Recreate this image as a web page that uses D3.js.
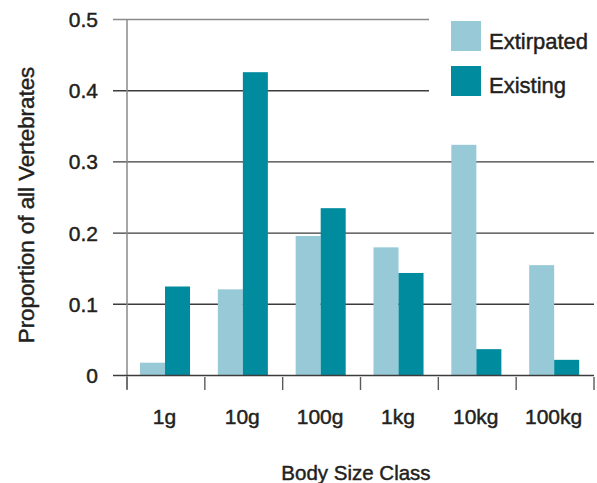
<!DOCTYPE html>
<html>
<head>
<meta charset="utf-8">
<script src="https://cdn.jsdelivr.net/npm/d3@7/dist/d3.min.js"></script>
<style>
  html, body { margin: 0; padding: 0; background: #fff; }
  svg { display: block; }
  text { font-family: "Liberation Sans", Arial, Helvetica, sans-serif; fill: #231f20; stroke: #231f20; stroke-width: 0.45px; }
</style>
</head>
<body>
<svg id="chart" width="597" height="483"></svg>
<script>
const categories = ["1g", "10g", "100g", "1kg", "10kg", "100kg"];
const seriesNames = ["Extirpated", "Existing"];
const extirpated = [0.018, 0.121, 0.196, 0.180, 0.324, 0.155];
const existing   = [0.125, 0.426, 0.235, 0.144, 0.037, 0.022];
const yTicks = [0, 0.1, 0.2, 0.3, 0.4, 0.5];
const yTickLabels = ["0", "0.1", "0.2", "0.3", "0.4", "0.5"];
const colors = ["#97cad6", "#008b9e"];

const svg = d3.select("#chart");
const pLeft = 127, pRight = 594, pTop = 19.5, pBottom = 375.5;

const x = d3.scaleBand().domain(categories).range([pLeft, pRight]).paddingInner(0).paddingOuter(0);
const xSub = d3.scaleBand().domain(seriesNames).range([13, x.bandwidth() - 14.8]).padding(0);
const y = d3.scaleLinear().domain([0, 0.5]).range([pBottom, pTop]);

// gridlines
const grid = svg.append("g");
yTicks.forEach(v => {
  if (v === 0) return;
  grid.append("line")
    .attr("x1", 113).attr("x2", v >= 0.4 ? 429 : pRight)
    .attr("y1", y(v)).attr("y2", y(v))
    .attr("stroke", v === 0.5 ? "#8a8a8a" : "#3c3c3c")
    .attr("stroke-width", 1.4);
});

// y axis vertical line
svg.append("line")
  .attr("x1", pLeft).attr("x2", pLeft)
  .attr("y1", pTop).attr("y2", 389)
  .attr("stroke", "#8a8a8a").attr("stroke-width", 1.5);

// bars
const data = categories.map((c, i) => ({ cat: c, vals: [extirpated[i], existing[i]] }));
const groups = svg.append("g").selectAll("g").data(data).join("g")
  .attr("transform", d => `translate(${x(d.cat)},0)`);
groups.selectAll("rect")
  .data(d => d.vals.map((v, j) => ({ name: seriesNames[j], v, j })))
  .join("rect")
  .attr("x", d => xSub(d.name))
  .attr("width", xSub.bandwidth())
  .attr("y", d => y(d.v))
  .attr("height", d => pBottom - y(d.v))
  .attr("fill", d => colors[d.j]);

// baseline
svg.append("line")
  .attr("x1", 113).attr("x2", pRight)
  .attr("y1", pBottom).attr("y2", pBottom)
  .attr("stroke", "#3c3c3c").attr("stroke-width", 1.4);

// x ticks (band boundaries)
const boundaries = categories.map(c => x(c)).concat([pRight]);
svg.append("g").selectAll("line").data(boundaries).join("line")
  .attr("x1", d => d).attr("x2", d => d)
  .attr("y1", 377).attr("y2", 390)
  .attr("stroke", "#5a5a5a").attr("stroke-width", 1.4);

// y tick labels
svg.append("g").selectAll("text").data(yTicks).join("text")
  .attr("x", 98).attr("y", d => y(d) + 7.5)
  .attr("text-anchor", "end")
  .attr("font-size", 21)
  .text((d, i) => yTickLabels[i]);

// x tick labels
svg.append("g").selectAll("text").data(categories).join("text")
  .attr("x", d => x(d) + x.bandwidth() / 2 - 1.5)
  .attr("y", 424)
  .attr("text-anchor", "middle")
  .attr("font-size", 21)
  .text(d => d);

// axis titles
svg.append("text")
  .attr("x", 356).attr("y", 480)
  .attr("text-anchor", "middle")
  .attr("font-size", 20.5)
  .text("Body Size Class");

svg.append("text")
  .attr("transform", "translate(34,205) rotate(-90)")
  .attr("text-anchor", "middle")
  .attr("font-size", 22.3)
  .text("Proportion of all Vertebrates");

// legend
const legend = svg.append("g");
seriesNames.forEach((s, i) => {
  legend.append("rect")
    .attr("x", 451).attr("y", 21 + i * 45)
    .attr("width", 30).attr("height", 30)
    .attr("fill", colors[i]);
  legend.append("text")
    .attr("x", 489).attr("y", 49 + i * 44)
    .attr("font-size", 22)
    .text(s);
});
</script>
</body>
</html>
